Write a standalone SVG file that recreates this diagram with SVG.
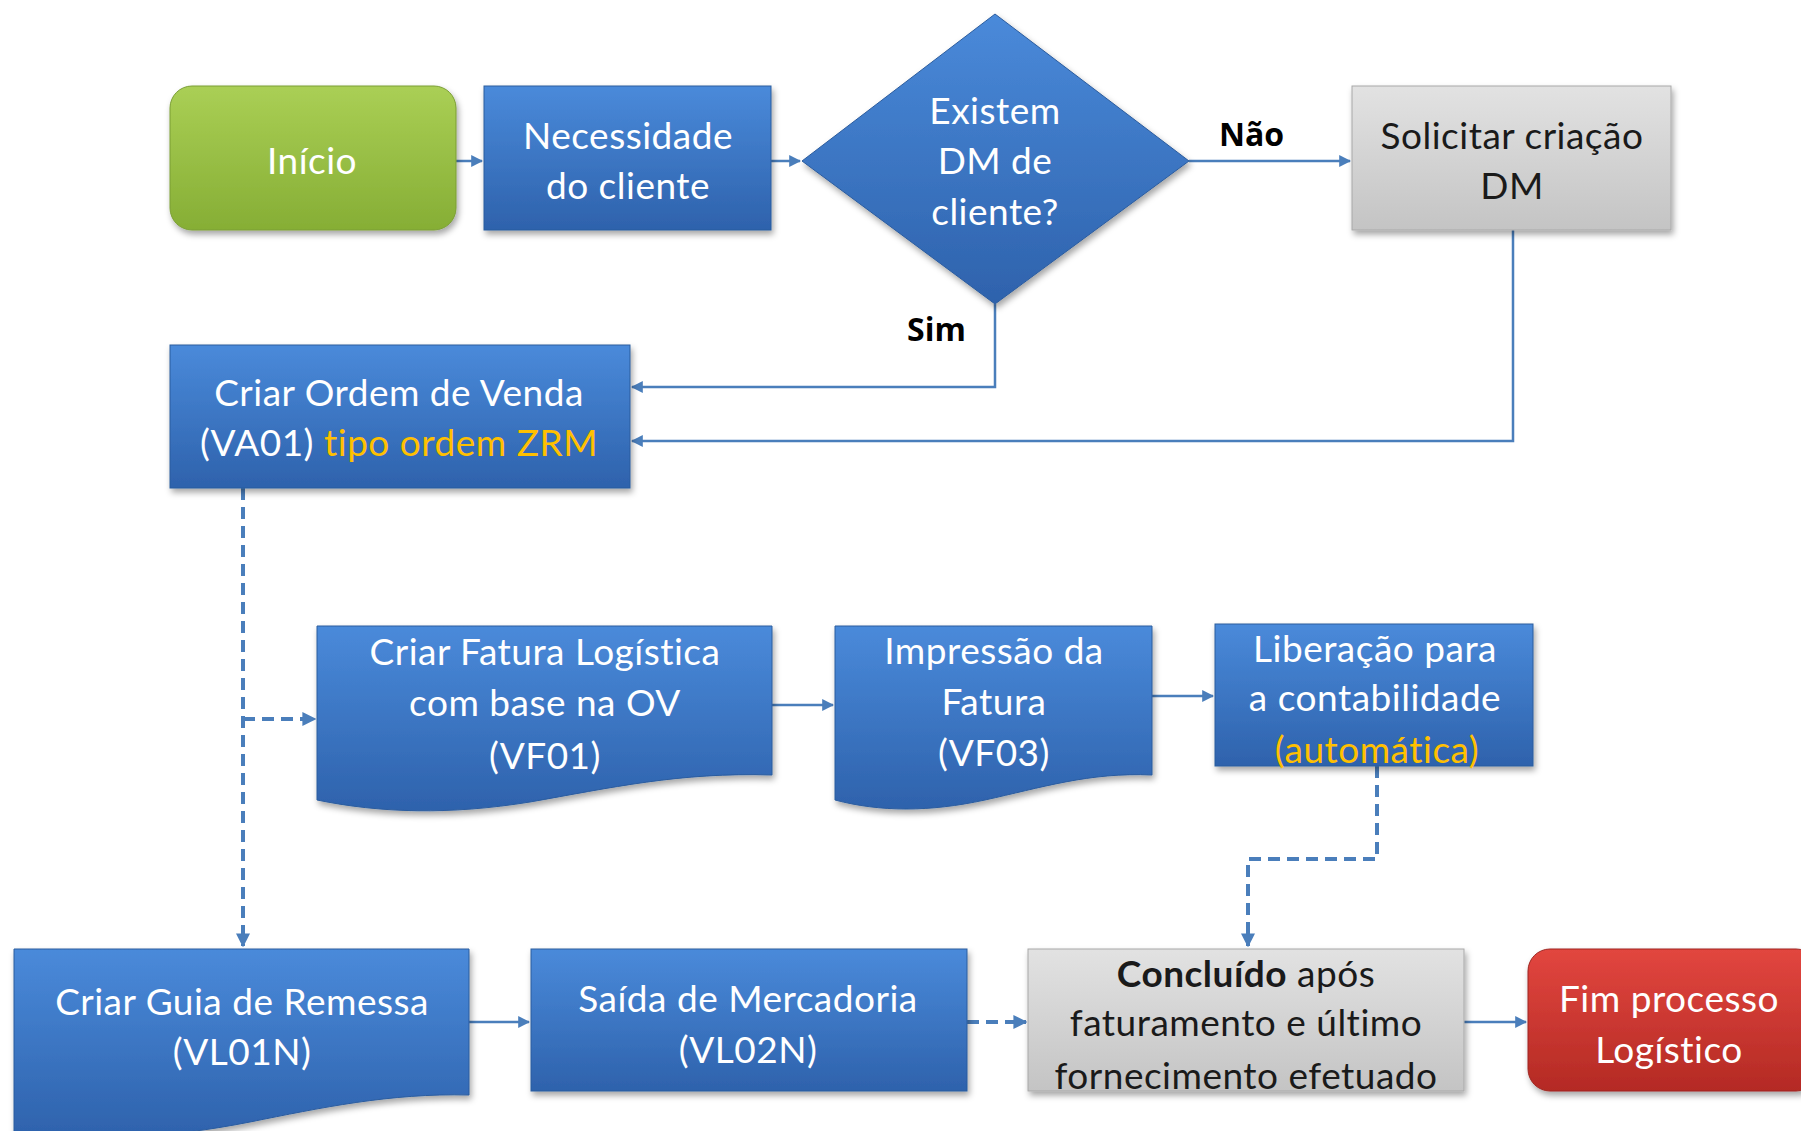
<svg xmlns="http://www.w3.org/2000/svg" width="1801" height="1131" viewBox="0 0 1801 1131">
<defs>
<linearGradient id="gBlue" x1="0" y1="0" x2="0" y2="1">
<stop offset="0" stop-color="#4A8ADA"/><stop offset="1" stop-color="#2E62AC"/>
</linearGradient>
<linearGradient id="gGreen" x1="0" y1="0" x2="0" y2="1">
<stop offset="0" stop-color="#AACF55"/><stop offset="1" stop-color="#86AE35"/>
</linearGradient>
<linearGradient id="gGray" x1="0" y1="0" x2="0" y2="1">
<stop offset="0" stop-color="#E2E2E2"/><stop offset="1" stop-color="#C4C4C4"/>
</linearGradient>
<linearGradient id="gRed" x1="0" y1="0" x2="0" y2="1">
<stop offset="0" stop-color="#E2463F"/><stop offset="1" stop-color="#B42A24"/>
</linearGradient>
<filter id="sh" x="-10%" y="-10%" width="125%" height="130%">
<feDropShadow dx="2" dy="4" stdDeviation="3" flood-color="#000" flood-opacity="0.35"/>
</filter>
<marker id="ah" viewBox="0 0 10 10" refX="9" refY="5" markerWidth="12" markerHeight="12" markerUnits="userSpaceOnUse" orient="auto">
<path d="M0,0 L10,5 L0,10 Z" fill="#4A7EBB"/>
</marker>
<marker id="ahd" viewBox="0 0 10 10" refX="9" refY="5" markerWidth="14" markerHeight="14" markerUnits="userSpaceOnUse" orient="auto">
<path d="M0,0 L10,5 L0,10 Z" fill="#4A7EBB"/>
</marker>
</defs>
<style>
.blue{fill:url(#gBlue);stroke:#2B5C9E;stroke-width:1;filter:url(#sh)}
.green{fill:url(#gGreen);stroke:#7A9E34;stroke-width:1;filter:url(#sh)}
.gray{fill:url(#gGray);stroke:#A8A8A8;stroke-width:1;filter:url(#sh)}
.red{fill:url(#gRed);stroke:#9E2520;stroke-width:1;filter:url(#sh)}
.t{font-family:Lato,"Open Sans",sans-serif;font-size:37px;letter-spacing:0.5px;text-anchor:middle;fill:#FFFFFF}
.td{font-family:Lato,"Open Sans",sans-serif;font-size:37px;letter-spacing:0.5px;text-anchor:middle;fill:#1A1A1A}
.lbl{font-family:"Open Sans",Lato,sans-serif;font-size:32px;font-weight:bold;fill:#000}
.or{fill:#FFC000}
.c{fill:none;stroke:#4A7EBB;stroke-width:2.5}
.d{fill:none;stroke:#4A7EBB;stroke-width:4;stroke-dasharray:12 7}
</style>
<rect width="1801" height="1131" fill="#FFFFFF"/>

<g id="connectors">
<path class="c" d="M456,161 H482" marker-end="url(#ah)"/>
<path class="c" d="M771,161 H800" marker-end="url(#ah)"/>
<path class="c" d="M1189,161 H1350" marker-end="url(#ah)"/>
<path class="c" d="M995,304 V387 H632" marker-end="url(#ah)"/>
<path class="c" d="M1513,230 V441 H632" marker-end="url(#ah)"/>
<path class="d" d="M243,488 V946" marker-end="url(#ahd)"/>
<path class="d" d="M243,719 H315" marker-end="url(#ahd)"/>
<path class="c" d="M772,705 H833" marker-end="url(#ah)"/>
<path class="c" d="M1152,696 H1213" marker-end="url(#ah)"/>
<path class="d" d="M1377,766 V859 H1248 V946" marker-end="url(#ahd)"/>
<path class="c" d="M469,1022 H529" marker-end="url(#ah)"/>
<path class="d" d="M967,1022 H1026" marker-end="url(#ahd)"/>
<path class="c" d="M1464,1022 H1526" marker-end="url(#ah)"/>
</g>

<g id="inicio">
<rect class="green" x="170" y="86" width="286" height="144" rx="22"/>
<text class="t" x="312" y="174">Início</text>
</g>

<g id="necessidade">
<rect class="blue" x="484" y="86" width="287" height="144"/>
<text class="t" x="628" y="149">Necessidade</text>
<text class="t" x="628" y="199">do cliente</text>
</g>

<g id="decisao">
<path class="blue" d="M995,14 L1189,161 L995,304 L802,161 Z"/>
<text class="t" x="995" y="124">Existem</text>
<text class="t" x="995" y="174">DM de</text>
<text class="t" x="995" y="225">cliente?</text>
</g>

<g id="label-nao"><text class="lbl" x="1219" y="146">Não</text></g>
<g id="label-sim"><text class="lbl" x="907" y="341">Sim</text></g>

<g id="solicitar">
<rect class="gray" x="1352" y="86" width="319" height="144"/>
<text class="td" x="1512" y="149">Solicitar criação</text>
<text class="td" x="1512" y="199">DM</text>
</g>

<g id="criar-ordem">
<rect class="blue" x="170" y="345" width="460" height="143"/>
<text class="t" x="399" y="406">Criar Ordem de Venda</text>
<text class="t" x="399" y="456">(VA01) <tspan class="or">tipo ordem ZRM</tspan></text>
</g>

<g id="criar-fatura">
<path class="blue" d="M317,626 H772 V775 C680,772 610,788 530,802 C450,815 380,813 317,800 Z"/>
<text class="t" x="545" y="665">Criar Fatura Logística</text>
<text class="t" x="545" y="716">com base na OV</text>
<text class="t" x="545" y="769">(VF01)</text>
</g>

<g id="impressao">
<path class="blue" d="M835,626 H1152 V775 C1090,772 1040,788 985,800 C930,812 880,812 835,800 Z"/>
<text class="t" x="994" y="664">Impressão da</text>
<text class="t" x="994" y="715">Fatura</text>
<text class="t" x="994" y="766">(VF03)</text>
</g>

<g id="liberacao">
<rect class="blue" x="1215" y="624" width="318" height="142"/>
<text class="t" x="1375" y="662">Liberação para</text>
<text class="t" x="1375" y="711">a contabilidade</text>
<text class="t or" x="1377" y="763">(automática)</text>
</g>

<g id="criar-guia">
<path class="blue" d="M14,949 H469 V1095 C390,1093 320,1108 250,1122 C170,1138 90,1142 14,1132 Z"/>
<text class="t" x="242" y="1015">Criar Guia de Remessa</text>
<text class="t" x="242" y="1065">(VL01N)</text>
</g>

<g id="saida">
<rect class="blue" x="531" y="949" width="436" height="142"/>
<text class="t" x="748" y="1012">Saída de Mercadoria</text>
<text class="t" x="748" y="1063">(VL02N)</text>
</g>

<g id="concluido">
<rect class="gray" x="1028" y="949" width="436" height="142"/>
<text class="td" x="1246" y="987"><tspan font-weight="bold">Concluído</tspan> após</text>
<text class="td" x="1246" y="1036">faturamento e último</text>
<text class="td" x="1246" y="1089">fornecimento efetuado</text>
</g>

<g id="fim">
<rect class="red" x="1528" y="949" width="290" height="142" rx="22"/>
<text class="t" x="1669" y="1012">Fim processo</text>
<text class="t" x="1669" y="1063">Logístico</text>
</g>
</svg>
